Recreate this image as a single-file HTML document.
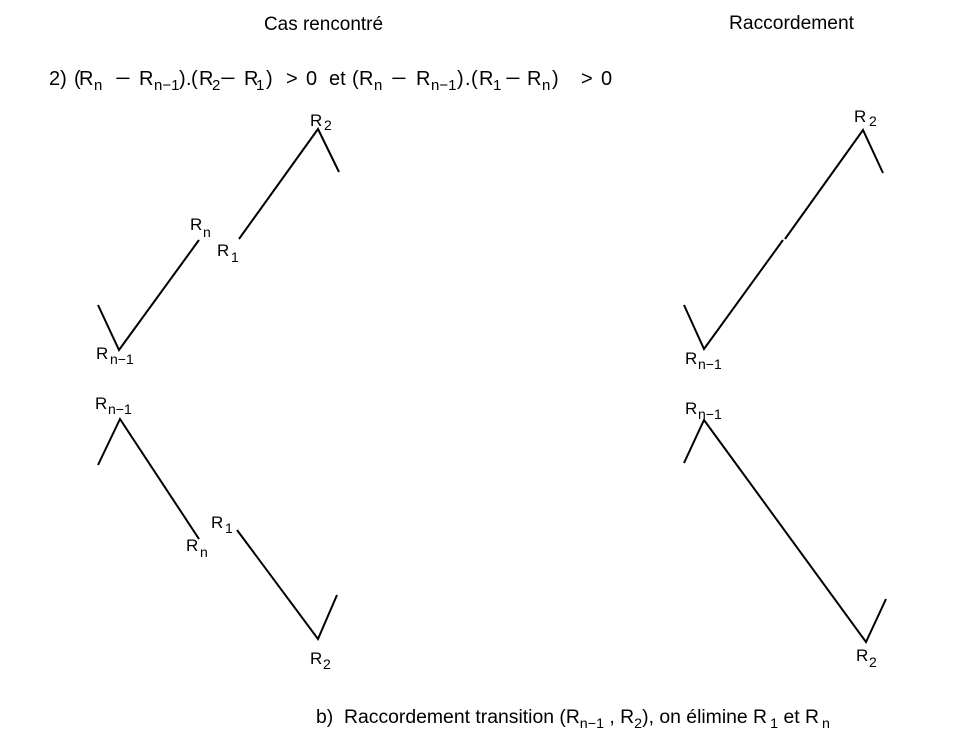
<!DOCTYPE html>
<html>
<head>
<meta charset="utf-8">
<style>
  html,body{margin:0;padding:0;background:#fff;}
  svg{display:block;}
  text{font-family:"Liberation Sans",Arial,sans-serif;fill:#000;}
  .f{font-size:20px;}
  .fs{font-size:15px;}
  .l{font-size:17px;}
  .ls{font-size:14px;}
  .t{font-size:19px;}
</style>
</head>
<body>
<svg width="977" height="742" viewBox="0 0 977 742" xmlns="http://www.w3.org/2000/svg">
  <rect width="977" height="742" fill="#fff"/>

  <!-- Titles -->
  <text class="t" x="264" y="30" textLength="119" lengthAdjust="spacingAndGlyphs">Cas rencontré</text>
  <text class="t" x="729" y="29" textLength="125" lengthAdjust="spacingAndGlyphs">Raccordement</text>

  <!-- Formula -->
  <g>
    <text class="f" x="49" y="85">2)</text>
    <text class="f" x="74" y="85">(</text>
    <text class="f" x="79" y="85">R</text>
    <text class="fs" x="94" y="90">n</text>
    <text class="f" transform="translate(115,85) scale(1.35,1)" x="0" y="0">−</text>
    <text class="f" x="139" y="85">R</text>
    <text class="fs" x="154" y="90">n−1</text>
    <text class="f" x="179" y="85">)</text>
    <text class="f" x="186" y="85">.</text>
    <text class="f" x="191" y="85">(</text>
    <text class="f" x="199" y="85">R</text>
    <text class="fs" x="212" y="90">2</text>
    <text class="f" transform="translate(220,85) scale(1.35,1)" x="0" y="0">−</text>
    <text class="f" x="244" y="85">R</text>
    <text class="fs" x="256" y="90">1</text>
    <text class="f" x="266" y="85">)</text>
    <text class="f" x="286" y="85">&gt;</text>
    <text class="f" x="306" y="85">0</text>
    <text class="f" x="329" y="85">et</text>
    <text class="f" x="352" y="85">(</text>
    <text class="f" x="359" y="85">R</text>
    <text class="fs" x="374" y="90">n</text>
    <text class="f" transform="translate(391,85) scale(1.35,1)" x="0" y="0">−</text>
    <text class="f" x="416" y="85">R</text>
    <text class="fs" x="431" y="90">n−1</text>
    <text class="f" x="457" y="85">)</text>
    <text class="f" x="465" y="85">.</text>
    <text class="f" x="471" y="85">(</text>
    <text class="f" x="479" y="85">R</text>
    <text class="fs" x="493" y="90">1</text>
    <text class="f" transform="translate(505,85) scale(1.35,1)" x="0" y="0">−</text>
    <text class="f" x="527" y="85">R</text>
    <text class="fs" x="542" y="90">n</text>
    <text class="f" x="552" y="85">)</text>
    <text class="f" x="581" y="85">&gt;</text>
    <text class="f" x="601" y="85">0</text>
  </g>

  <!-- Lines -->
  <g fill="none" stroke="#000" stroke-width="2" stroke-linejoin="miter">
    <polyline points="98,305 119,350 199,240"/>
    <polyline points="239,239 318,129 339,172"/>
    <polyline points="98,465 120,419 199,539"/>
    <polyline points="237,530 318,639 337,595"/>
    <polyline points="684,305 704,349 783,240"/>
    <polyline points="785,239 863,130 883,173"/>
    <polyline points="684,463 704,420 866,642 886,599"/>
  </g>

  <!-- Left top labels -->
  <text class="l" x="310" y="126">R</text><text class="ls" x="324" y="130">2</text>
  <text class="l" x="190" y="230">R</text><text class="ls" x="203" y="237">n</text>
  <text class="l" x="217" y="256">R</text><text class="ls" x="231" y="262">1</text>
  <text class="l" x="96" y="359">R</text><text class="ls" x="110" y="364">n−1</text>

  <!-- Left bottom labels -->
  <text class="l" x="95" y="409">R</text><text class="ls" x="108" y="414">n−1</text>
  <text class="l" x="211" y="528">R</text><text class="ls" x="225" y="533">1</text>
  <text class="l" x="186" y="551">R</text><text class="ls" x="200" y="557">n</text>
  <text class="l" x="310" y="664">R</text><text class="ls" x="323" y="669">2</text>

  <!-- Right top labels -->
  <text class="l" x="854" y="122">R</text><text class="ls" x="869" y="126">2</text>
  <text class="l" x="685" y="364">R</text><text class="ls" x="698" y="369">n−1</text>

  <!-- Right bottom labels -->
  <text class="l" x="685" y="414">R</text><text class="ls" x="698" y="419">n−1</text>
  <text class="l" x="856" y="661">R</text><text class="ls" x="869" y="667">2</text>

  <!-- Bottom caption -->
  <text x="316" y="723" style="font-size:19px;white-space:pre" textLength="514" lengthAdjust="spacingAndGlyphs">b)  Raccordement transition (R<tspan style="font-size:14px" dy="5">n−1</tspan><tspan dy="-5"> , R</tspan><tspan style="font-size:14px" dy="5">2</tspan><tspan dy="-5">), on élimine R</tspan><tspan style="font-size:14px" dx="3" dy="5">1</tspan><tspan dy="-5"> et R</tspan><tspan style="font-size:14px" dx="3" dy="5">n</tspan></text>
</svg>
</body>
</html>
